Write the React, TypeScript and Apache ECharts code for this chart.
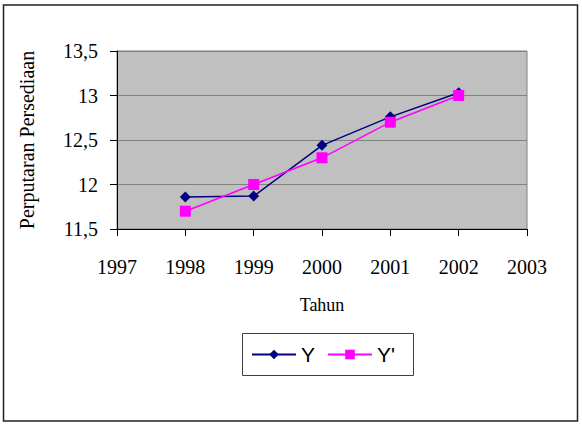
import React, { useEffect, useRef } from "react";
import * as echarts from "echarts";

const years = [1998, 1999, 2000, 2001, 2002];
const seriesY = [11.86, 11.87, 12.44, 12.76, 13.03];
const seriesYPrime = [11.7, 12.0, 12.3, 12.7, 13.0];
const xTitle = "Tahun";
const yTitle = "Perputaran Persediaan";

export default function App() {
  const ref = useRef<HTMLDivElement>(null);
  useEffect(() => {
    if (!ref.current) return;
    const chart = echarts.init(ref.current, undefined, { renderer: "svg" });
    const serif = "Liberation Serif";
    const sans = "Liberation Sans";
    chart.setOption({
      animation: false,
      backgroundColor: "#ffffff",
      graphic: [
        {
          type: "rect",
          shape: { x: 3.5, y: 5, width: 574, height: 416 },
          style: { fill: "none", stroke: "#222", lineWidth: 1.5 },
          silent: true,
        },
        {
          type: "rect",
          shape: { x: 242.5, y: 333.5, width: 171, height: 42 },
          style: { fill: "none", stroke: "#404040", lineWidth: 1 },
          silent: true,
        },
      ],
      grid: {
        left: 117,
        top: 51,
        right: 55,
        bottom: 197,
        show: true,
        backgroundColor: "#C0C0C0",
        borderColor: "#808080",
        borderWidth: 1,
      },
      legend: {
        left: 251,
        top: 344,
        itemWidth: 44,
        itemHeight: 12,
        itemGap: 12,
        padding: 0,
        textStyle: { fontFamily: sans, fontSize: 21, color: "#000" },
        data: ["Y", "Y'"],
      },
      xAxis: {
        type: "value",
        min: 1997,
        max: 2003,
        interval: 1,
        name: xTitle,
        nameLocation: "middle",
        nameGap: 67,
        nameTextStyle: { fontFamily: serif, fontSize: 18, color: "#000" },
        axisLine: { lineStyle: { color: "#000", width: 1 } },
        axisTick: { show: true, inside: false, length: 7, lineStyle: { color: "#000" } },
        axisLabel: {
          fontFamily: serif,
          fontSize: 20,
          color: "#000",
          margin: 28,
          formatter: (v: number) => String(v),
        },
        splitLine: { show: false },
      },
      yAxis: {
        type: "value",
        min: 11.5,
        max: 13.5,
        interval: 0.5,
        name: yTitle,
        nameLocation: "middle",
        nameGap: 80,
        nameTextStyle: { fontFamily: serif, fontSize: 20, color: "#000" },
        axisLine: { show: true, lineStyle: { color: "#000", width: 1 } },
        axisTick: { show: true, inside: false, length: 7, lineStyle: { color: "#000" } },
        axisLabel: {
          fontFamily: serif,
          fontSize: 20,
          color: "#000",
          margin: 19,
          formatter: (v: number) => String(v).replace(".", ","),
        },
        splitLine: { show: true, lineStyle: { color: "#808080", width: 1 } },
      },
      series: [
        {
          name: "Y",
          type: "line",
          data: years.map((x, i) => [x, seriesY[i]]),
          symbol: "diamond",
          symbolSize: 11,
          itemStyle: { color: "#000080" },
          lineStyle: { color: "#000080", width: 1.5 },
        },
        {
          name: "Y'",
          type: "line",
          data: years.map((x, i) => [x, seriesYPrime[i]]),
          symbol: "rect",
          symbolSize: 11,
          itemStyle: { color: "#FF00FF" },
          lineStyle: { color: "#FF00FF", width: 1.5 },
        },
      ],
    });
    return () => chart.dispose();
  }, []);
  return (
    <div
      ref={ref}
      style={{ position: "fixed", left: 0, top: 0, width: 582, height: 426 }}
    />
  );
}
